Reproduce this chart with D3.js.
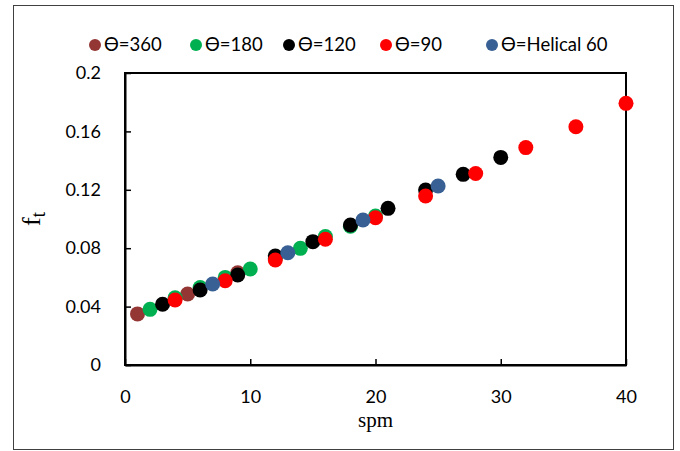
<!DOCTYPE html>
<html lang="en">
<head>
  <meta charset="utf-8">
  <title>ft vs spm</title>
  <script src="https://d3js.org/d3.v7.min.js"></script>
  <style>
    body { margin: 0; background: #fff; }
    svg text { font-family: Lato, "Open Sans", sans-serif; }
  </style>
</head>
<body>
<div id="chart"></div>
<script>
  // series data: spm (x) and ft (y)
  var seriesNames = ['Ɵ=360', 'Ɵ=180', 'Ɵ=120', 'Ɵ=90', 'Ɵ=Helical 60'];
  var seriesColors = ['#943634', '#00b050', '#000000', '#ff0000', '#386094'];

  var spm360 = [1, 5, 9];
  var ft360 = [0.035, 0.0486, 0.0632];

  var spm180 = [2, 4, 6, 8, 10, 12, 14, 16, 18, 20];
  var ft180 = [0.0381, 0.046, 0.053, 0.060, 0.0658, 0.073, 0.0799, 0.088, 0.095, 0.102];

  var spm120 = [3, 6, 9, 12, 15, 18, 21, 24, 27, 30];
  var ft120 = [0.0416, 0.0514, 0.0616, 0.0747, 0.0845, 0.0959, 0.1073, 0.1199, 0.1306, 0.1422];

  var spm90 = [4, 8, 12, 16, 20, 24, 28, 32, 36, 40];
  var ft90 = [0.0445, 0.0577, 0.0719, 0.0861, 0.1009, 0.1158, 0.1312, 0.1489, 0.1632, 0.1792];

  var spmHel = [7, 13, 19, 25];
  var ftHel = [0.0555, 0.0769, 0.0993, 0.1226];

  var xTicks = [0, 10, 20, 30, 40];
  var yTicks = [0, 0.04, 0.08, 0.12, 0.16, 0.2];

  var allX = [spm360, spm180, spm120, spm90, spmHel];
  var allY = [ft360, ft180, ft120, ft90, ftHel];

  var width = 680, height = 451;
  var margin = {left: 125, right: 54, top: 73, bottom: 86};

  var svg = d3.select('#chart').append('svg')
      .attr('width', width)
      .attr('height', height);

  // outer frame
  svg.append('rect')
      .attr('x', 13.5).attr('y', 5.5)
      .attr('width', 660).attr('height', 444)
      .attr('fill', 'none')
      .attr('stroke', '#404040')
      .attr('stroke-width', 1);

  var x = d3.scaleLinear().domain([0, 40]).range([margin.left, width - margin.right]);
  var y = d3.scaleLinear().domain([0, 0.2]).range([height - margin.bottom, margin.top]);

  // plot area border (top & right)
  svg.append('rect')
      .attr('x', x(0)).attr('y', y(0.2))
      .attr('width', x(40) - x(0)).attr('height', y(0) - y(0.2))
      .attr('fill', 'none')
      .attr('stroke', '#000')
      .attr('stroke-width', 2);

  var xAxis = d3.axisBottom(x)
      .tickValues(xTicks)
      .tickSizeInner(-6)
      .tickSizeOuter(0)
      .tickPadding(25)
      .tickFormat(d3.format('d'));

  var yAxis = d3.axisLeft(y)
      .tickValues(yTicks)
      .tickSizeInner(-6)
      .tickSizeOuter(0)
      .tickPadding(24)
      .tickFormat(function(d) { return d === 0 ? '0' : d3.format('')(+d.toFixed(2)); });

  var gx = svg.append('g')
      .attr('transform', 'translate(0,' + y(0) + ')')
      .call(xAxis);
  var gy = svg.append('g')
      .attr('transform', 'translate(' + x(0) + ',0)')
      .call(yAxis);

  [gx, gy].forEach(function(g) {
    g.select('.domain').attr('stroke', '#000').attr('stroke-width', 2);
    g.selectAll('.tick line').attr('stroke', '#000').attr('stroke-width', 1.5);
    g.selectAll('.tick text')
        .attr('fill', '#000')
        .style('font-size', '18px');
  });

  // points, in series order so later series sit on top
  seriesNames.forEach(function(name, i) {
    var pts = allX[i].map(function(v, j) { return [v, allY[i][j]]; });
    svg.append('g').selectAll('circle')
        .data(pts)
        .enter().append('circle')
        .attr('cx', function(d) { return x(d[0]); })
        .attr('cy', function(d) { return y(d[1]); })
        .attr('r', 7.5)
        .attr('fill', seriesColors[i]);
  });

  // axis titles
  svg.append('text')
      .attr('x', (x(0) + x(40)) / 2)
      .attr('y', 427)
      .attr('text-anchor', 'middle')
      .style('font-family', '"Liberation Serif", serif')
      .style('font-size', '21px')
      .text('spm');

  var yt = svg.append('text')
      .attr('transform', 'translate(40,' + ((y(0) + y(0.2)) / 2) + ') rotate(-90)')
      .attr('text-anchor', 'middle')
      .style('font-family', '"Liberation Serif", serif')
      .style('font-size', '26px');
  yt.append('tspan').text('f');
  yt.append('tspan').attr('dy', 5).style('font-size', '20px').text('t');

  // legend
  var legendX = [95, 196, 289, 386, 492];
  var legend = svg.append('g');
  seriesNames.forEach(function(name, i) {
    var g = legend.append('g').attr('transform', 'translate(' + legendX[i] + ',45)');
    g.append('circle').attr('r', 6).attr('fill', seriesColors[i]);
    g.append('text')
        .attr('x', 9)
        .attr('dy', '0.35em')
        .style('font-size', '18.5px')
        .attr('fill', '#000')
        .text(name);
  });
</script>
</body>
</html>
